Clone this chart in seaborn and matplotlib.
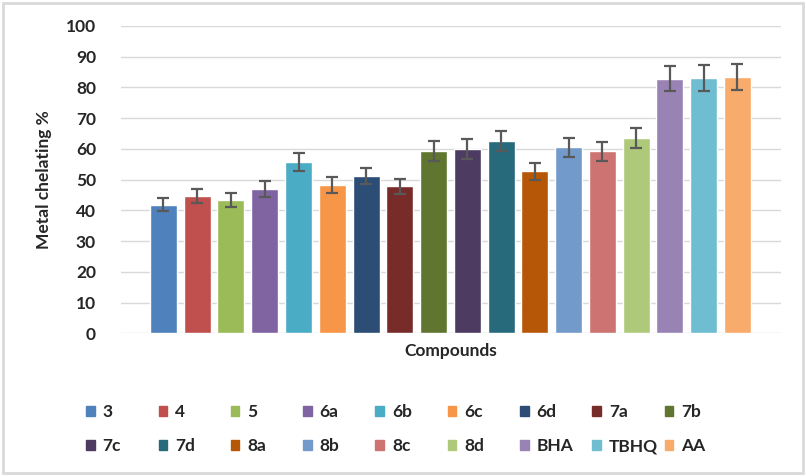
import matplotlib
matplotlib.use("Agg")
import matplotlib.pyplot as plt
import matplotlib.patches as mpatches
import seaborn as sns
import pandas as pd

compounds = ["3", "4", "5", "6a", "6b", "6c", "6d", "7a", "7b",
             "7c", "7d", "8a", "8b", "8c", "8d", "BHA", "TBHQ", "AA"]
chelating = [41.8, 44.7, 43.4, 47.0, 55.7, 48.3, 51.2, 47.9, 59.3,
             60.0, 62.6, 52.8, 60.6, 59.3, 63.6, 82.8, 83.1, 83.4]
errors = [2.1, 2.4, 2.3, 2.5, 3.0, 2.5, 2.7, 2.5, 3.2,
          3.2, 3.3, 2.8, 3.1, 3.1, 3.3, 4.1, 4.1, 4.1]
colors = ["#4F81BD", "#C0504D", "#9BBB59", "#8064A2", "#4BACC6", "#F79646",
          "#2C4D75", "#772C2A", "#5F7530", "#4D3B62", "#276A7C", "#B65708",
          "#729ACA", "#CD7371", "#AFC97A", "#9983B5", "#6FBDD1", "#F9AB6B"]

df = pd.DataFrame({"compound": compounds, "value": chelating, "err": errors})

sns.set_style("white")
plt.rcParams["font.family"] = ["Lato", "DejaVu Sans"]

fig = plt.figure(figsize=(8.06, 4.76), dpi=100)
ax = fig.add_axes([0.150, 0.2994, 0.819, 0.6460])

sns.barplot(data=df, x="compound", y="value", hue="compound",
            palette=colors, dodge=False, width=0.8, legend=False,
            errorbar=None, saturation=1, ax=ax, zorder=3)
ax.errorbar(range(len(compounds)), df["value"], yerr=df["err"], fmt="none",
            ecolor="#595959", elinewidth=1.6, capsize=4, capthick=1.6, zorder=4)

ax.set_ylim(0, 100)
ax.set_xlim(-1.26, 18.29)
ax.set_yticks(range(0, 101, 10))
ax.yaxis.grid(True, color="#D9D9D9", linewidth=1, zorder=0)
ax.set_axisbelow(True)
for s in ax.spines.values():
    s.set_visible(False)
ax.set_xticks([])
ax.tick_params(axis="y", length=0, pad=18, labelsize=12.5)
for lab in ax.get_yticklabels():
    lab.set_fontweight("bold")
ax.set_xlabel("Compounds", fontsize=12.5, fontweight="bold", labelpad=7)
ax.set_ylabel("Metal chelating %", fontsize=12.5, fontweight="bold", labelpad=10)

# legend: 2 rows x 9 evenly spaced columns, like the Excel legend
handles = [mpatches.Patch(color=c, label=n) for n, c in zip(compounds, colors)]
ncol = 9
for col in range(ncol):
    x0 = (82 + 72.3 * col) / 806 - 0.012
    fig.legend(handles=[handles[col], handles[col + ncol]], loc="upper left",
               bbox_to_anchor=(x0, 1 - 390 / 476), frameon=False,
               handlelength=0.5, handleheight=0.5, handletextpad=0.45,
               borderpad=0.3, labelspacing=1.07,
               prop={"weight": "bold", "size": 12.5})

fig.patches.append(mpatches.Rectangle((0.004, 0.006), 0.992, 0.988, transform=fig.transFigure,
                                      fill=False, edgecolor="#D9D9D9", linewidth=2))

fig.savefig("out.png", dpi=100)
